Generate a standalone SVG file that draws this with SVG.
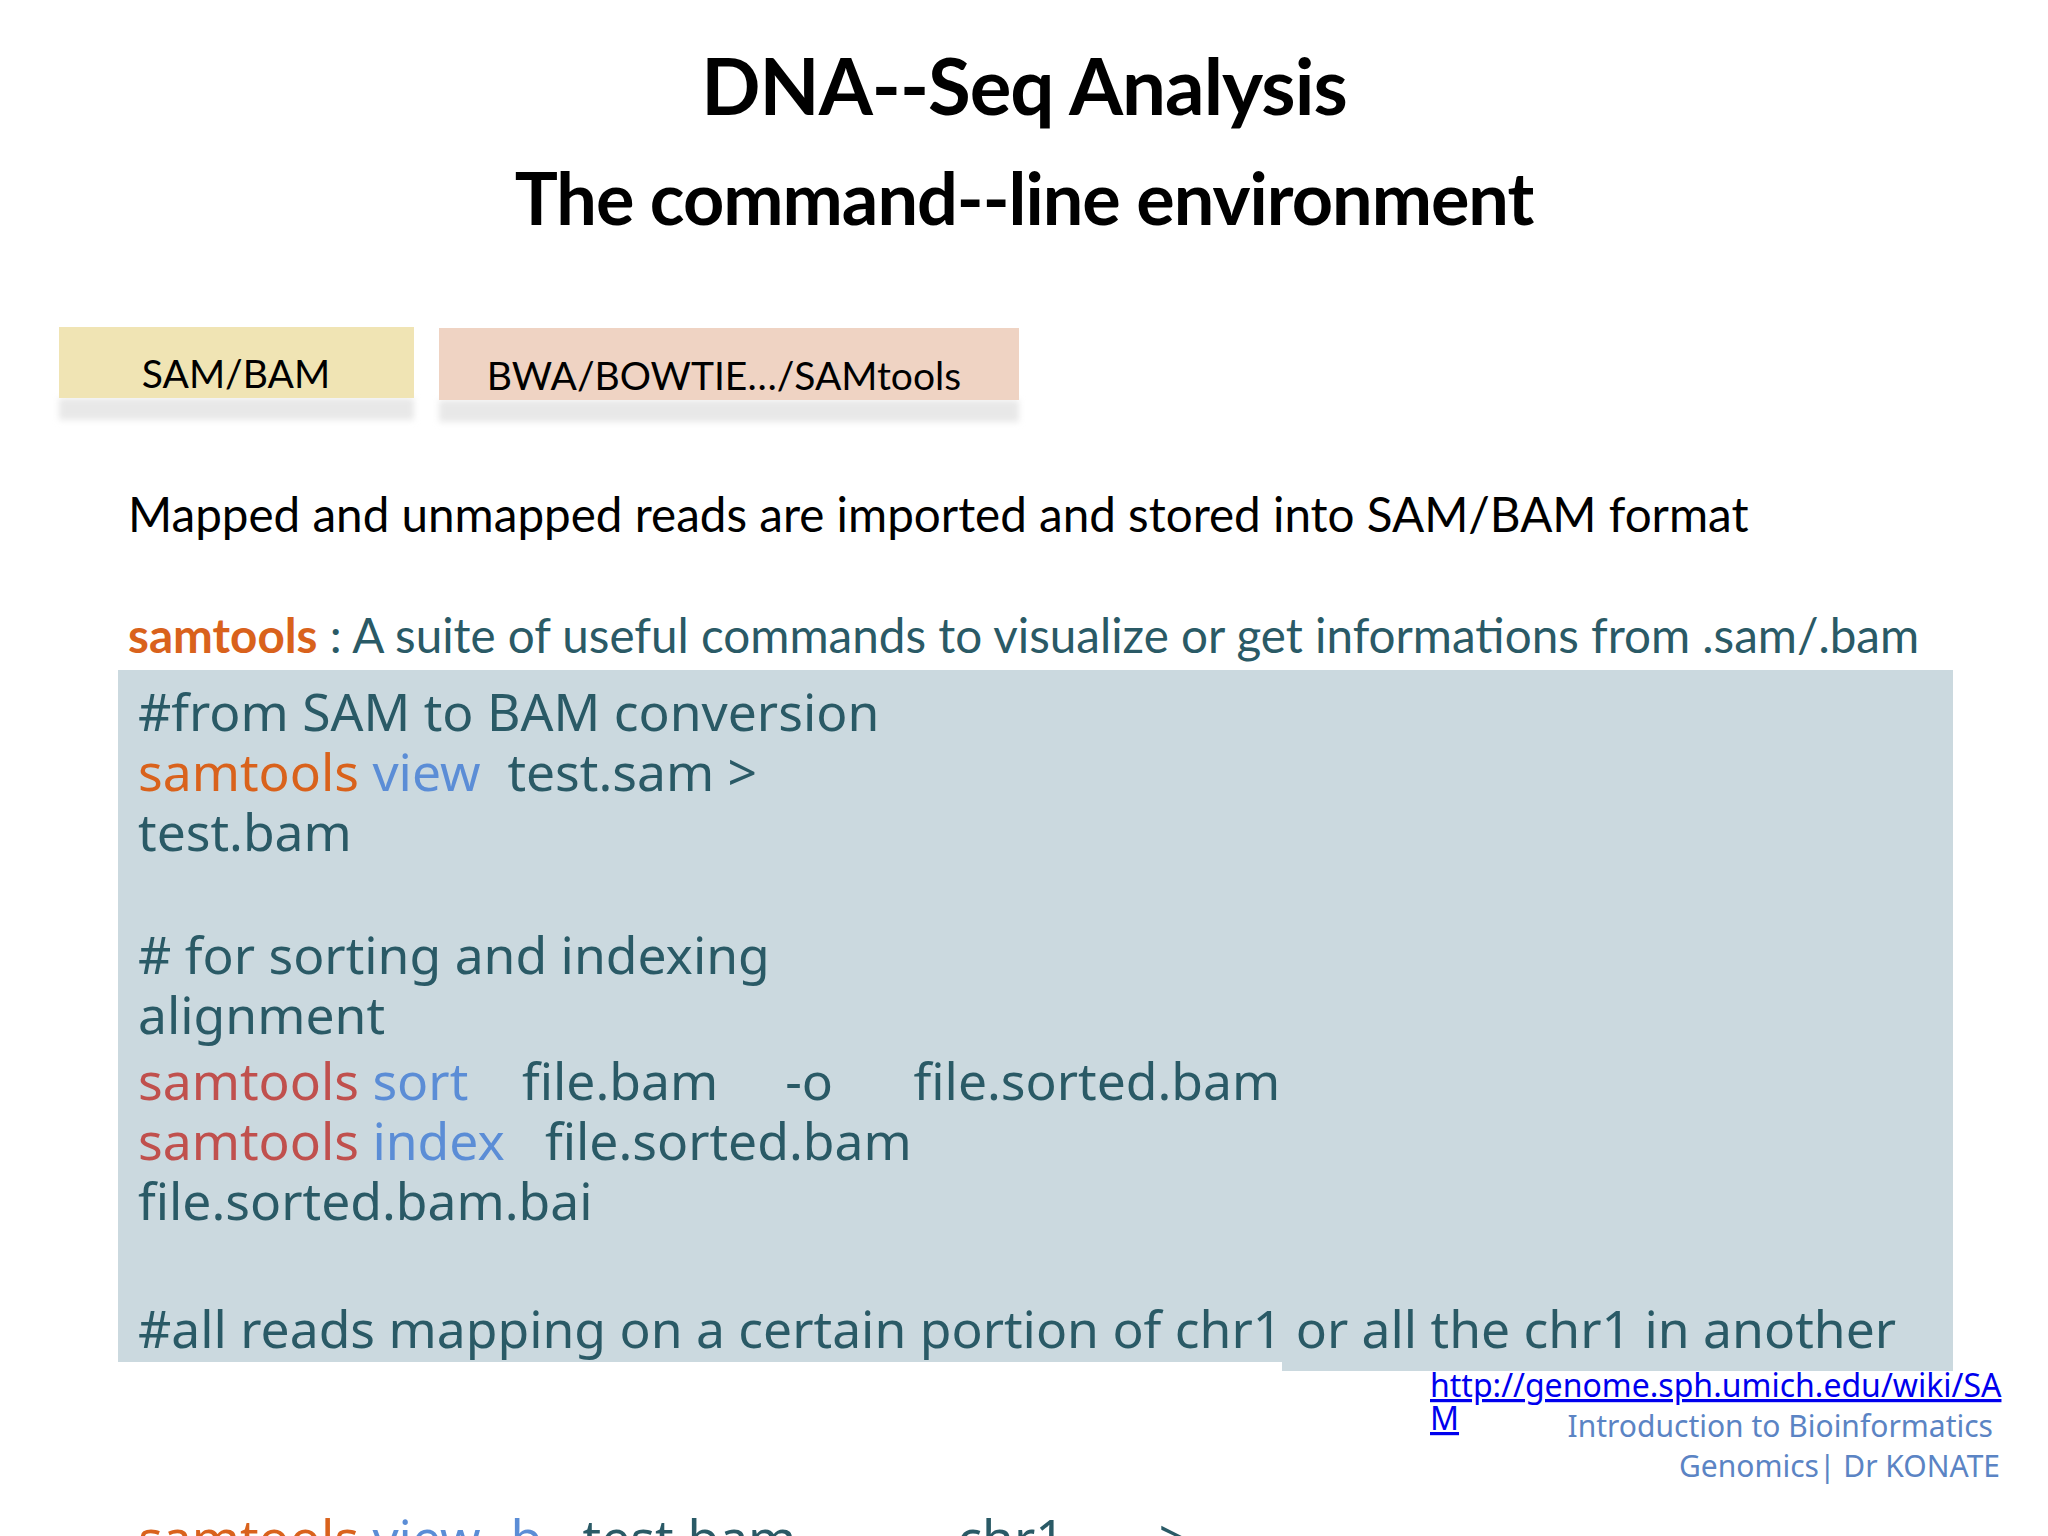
<svg xmlns="http://www.w3.org/2000/svg" width="2048" height="1536" viewBox="0 0 2048 1536">
<defs>
<style>
.t{font-family:Lato,"Noto Sans",sans-serif;fill:#000}
.c{font-family:"Noto Sans","Open Sans",sans-serif;font-size:51.6px;fill:#2a5a66}
.o{fill:#d9621c}.b{fill:#5b8dd6}.r{fill:#c0504d}
.lbl{font-family:Lato,"Noto Sans",sans-serif;font-size:39px;fill:#000;text-anchor:middle}
.ft{font-family:"Noto Sans",sans-serif;font-size:30px;fill:#5b84c4;text-anchor:end}
</style>
<filter id="sh" x="-5%" y="-20%" width="110%" height="160%"><feGaussianBlur stdDeviation="3"/></filter>
</defs>
<rect width="2048" height="1536" fill="#fff"/>
<text class="t" x="1024" y="115" font-size="78" font-weight="bold" text-anchor="middle" letter-spacing="-1">DNA--Seq Analysis</text>
<text class="t" x="1024" y="225" font-size="72" font-weight="bold" text-anchor="middle" letter-spacing="-1">The command--line environment</text>
<g id="sambam">
<rect x="59" y="398" width="355" height="22" fill="#e8e8e8" filter="url(#sh)"/>
<rect x="59" y="327" width="355" height="71" fill="#f0e4b4"/>
<text class="lbl" x="236" y="388">SAM/BAM</text>
</g>
<g id="tools">
<rect x="439" y="400" width="580" height="22" fill="#e8e8e8" filter="url(#sh)"/>
<rect x="439" y="328" width="580" height="72" fill="#efd3c3"/>
<text class="lbl" x="724" y="390">BWA/BOWTIE…/SAMtools</text>
</g>
<g id="connectors"/>
<text class="t" x="128" y="532" font-size="47.6">Mapped and unmapped reads are imported and stored into SAM/BAM format</text>
<text class="t" x="128" y="653" font-size="47.6" style="fill:#2a5a66"><tspan class="o" font-weight="bold">samtools</tspan> : A suite of useful commands to visualize or get informations from .sam/.bam</text>
<text class="c" x="138" y="1557" xml:space="preserve"><tspan class="o">samtools</tspan> <tspan class="b">view -b</tspan>   test.bam            chr1       &gt;</text>
<g id="code">
<rect x="118" y="670" width="1835" height="692" fill="#cbd9df"/>
<rect x="1282" y="1360" width="671" height="11" fill="#cbd9df"/>
<text class="c" x="138" y="731">#from SAM to BAM conversion</text>
<text class="c" x="138" y="791" xml:space="preserve"><tspan class="o">samtools</tspan> <tspan class="b">view</tspan>  test.sam &gt;</text>
<text class="c" x="138" y="851">test.bam</text>
<text class="c" x="138" y="974"># for sorting and indexing</text>
<text class="c" x="138" y="1034">alignment</text>
<text class="c" x="138" y="1100" xml:space="preserve"><tspan class="r">samtools</tspan> <tspan class="b">sort</tspan>    file.bam     -o      file.sorted.bam</text>
<text class="c" x="138" y="1160" xml:space="preserve"><tspan class="r">samtools</tspan> <tspan class="b">index</tspan>   file.sorted.bam</text>
<text class="c" x="138" y="1220">file.sorted.bam.bai</text>
<text class="c" x="138" y="1348">#all reads mapping on a certain portion of chr1 or all the chr1 in another</text>
</g>
<text x="1430" y="1397" font-family="'Noto Sans',sans-serif" font-size="32" fill="#0000ee" text-decoration="underline">http://genome.sph.umich.edu/wiki/SA</text>
<text x="1430" y="1430" font-family="'Noto Sans',sans-serif" font-size="32" fill="#0000ee" text-decoration="underline">M</text>
<text class="ft" x="1993" y="1437">Introduction to Bioinformatics</text>
<text class="ft" x="2000" y="1477">Genomics| Dr KONATE</text>
</svg>
